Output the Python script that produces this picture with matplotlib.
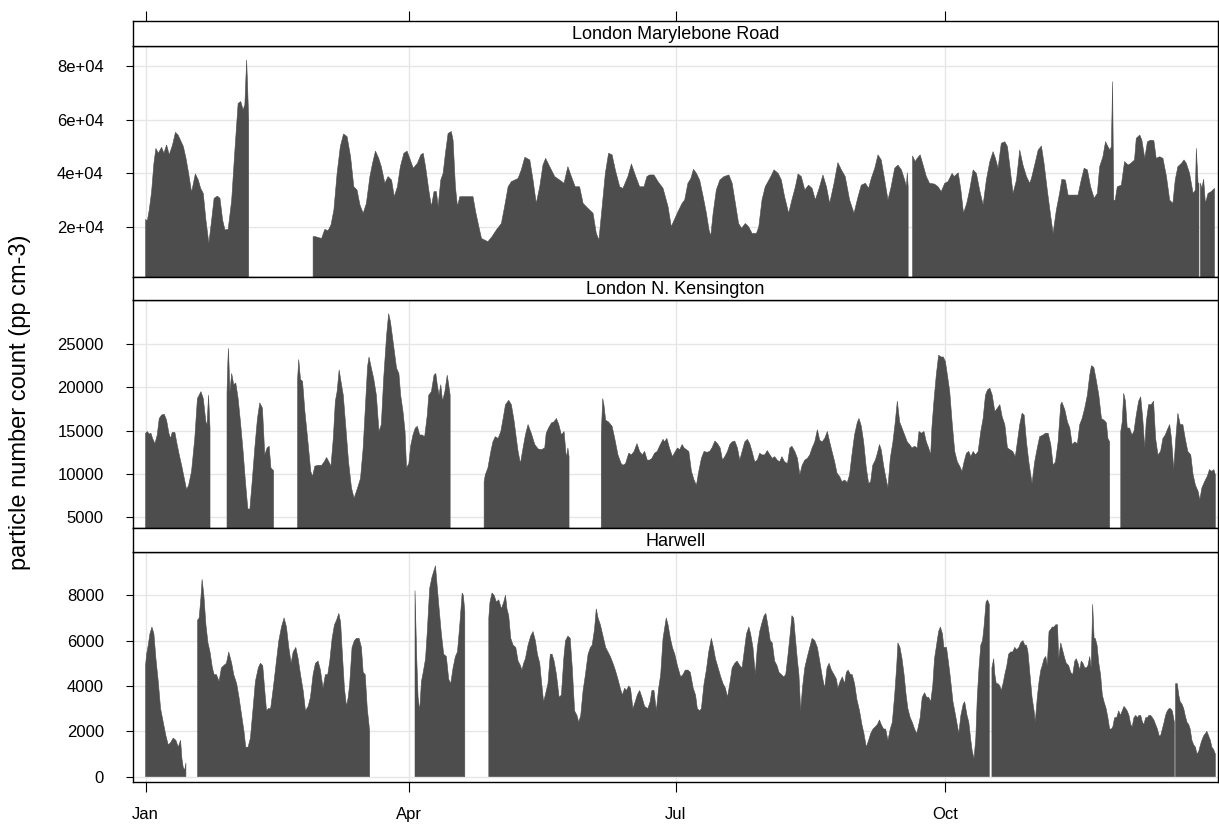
import numpy as np
import matplotlib.pyplot as plt

plt.rcParams['font.family'] = ['Liberation Sans', 'DejaVu Sans']

nan = np.nan

# x positions are day of year (0 = 1 Jan), nan marks a gap in the record
month_days = [0, 90, 181, 273]
month_labels = ['Jan', 'Apr', 'Jul', 'Oct']
sites = ['London Marylebone Road', 'London N. Kensington', 'Harwell']

mary_day = [0.0, 0.6, 1.25, 2.05, 2.84, 3.53, 4.32, 5.46, 6.26, 7.17, 8.08, 9.2, 10.2, 11.1, 11.9, 12.9,
            13.8, 14.7, 15.7, 17.0, 18.0, 18.8, 19.7, 20.6, 21.6, 22.5, 23.4, 24.5, 25.4, 26.3, 27.1, 28.2,
            29.4, 30.5, 31.6, 32.5, 33.3, 33.9, 34.5, 34.8, 35.2, 35.3,
            57.2, 57.9, 60.1, 61.2, 62.3, 63.3, 64.3, 65.4, 66.5, 67.6, 68.8, 70.0, 71.1, 72.2, 73.2, 74.3,
            75.4, 76.6, 77.5, 78.5, 79.6, 80.5, 81.7, 82.8, 84.0, 84.9, 86.0, 87.0, 88.2, 89.3, 90.2, 91.4,
            92.8, 94.0, 94.8, 95.6, 96.7, 97.6, 98.5, 99.3, 99.9, 100.8, 101.6, 102.4, 103.3, 104.4, 105.0,
            105.8, 106.5, 107.3, 108.4, 110.1, 111.8, 112.7, 113.8, 114.7, 115.8, 116.9, 118.3, 119.8, 121.5,
            122.6, 123.8, 124.9, 127.2, 128.3, 129.5, 131.2, 132.3, 133.4, 134.6, 135.7, 136.6, 138.0, 139.7,
            141.4, 142.9, 144.2, 145.4, 146.7, 148.2, 149.4, 151.1, 152.8, 153.9, 154.8, 155.8, 157.0, 158.1,
            159.3, 160.4, 161.9, 163.0, 164.7, 165.9, 167.2, 168.7, 170.2, 171.2, 172.1, 173.6, 175.0, 176.7,
            178.4, 179.5, 181.8, 183.2, 184.1, 185.2, 186.2, 187.1, 188.1, 189.2, 190.4, 191.5, 192.4, 193.0,
            193.8, 194.9, 196.1, 197.5, 199.2, 200.3, 201.4, 202.5, 203.5, 204.8, 205.9, 207.1, 208.6, 209.4,
            210.5, 211.6, 213.5, 214.6, 216.0, 217.1, 218.2, 219.6, 220.7, 221.9, 222.8, 223.9, 225.1, 226.4,
            227.6, 228.7, 230.0, 231.3, 232.5, 233.6, 235.1, 236.4, 237.6, 238.9, 240.4, 241.9, 243.3, 244.4,
            245.8, 246.9, 247.8, 249.0, 250.1, 251.2, 252.4, 253.5, 254.6, 255.8, 256.9, 258.1, 259.2, 259.8,
            260.1, 260.4, 260.5,
            261.9, 262.8, 263.5, 264.5, 265.5, 266.6, 267.7, 269.4, 270.6, 271.7, 272.9, 274.0, 275.4, 276.1,
            277.5, 278.4, 279.3, 280.4, 281.4, 282.6, 283.7, 284.8, 286.0, 287.1, 288.3, 289.4, 290.2, 291.1,
            292.2, 293.4, 294.3, 295.4, 296.2, 297.4, 298.5, 299.6, 300.8, 301.9, 302.5, 303.6, 304.8, 305.9,
            306.8, 307.9, 309.1, 309.9, 311.0, 312.1, 312.9, 314.1, 315.0, 316.1, 317.3, 318.4, 319.5, 320.5,
            321.6, 322.7, 323.9, 325.0, 325.8, 326.9, 327.8, 328.6, 329.3, 329.8, 330.2, 330.6, 331.1, 331.8,
            333.2, 334.3, 335.5, 336.4, 337.7, 338.3, 339.5, 340.2, 341.2, 342.1, 343.2, 344.3, 345.1, 346.3,
            347.4, 348.6, 349.7, 350.8, 351.6, 352.5, 353.7, 354.6, 355.4, 356.5, 357.7, 358.5, 358.8, 359.4,
            359.7, 359.9,
            360.2, 360.7, 361.3, 361.9, 362.8, 363.9, 365.0]
mary_val = [22700, 22200, 26200, 33000, 43600, 49200, 47400, 49600, 47400, 50500, 46800, 50500, 55200, 54200,
            52300, 49900, 45500, 39900, 32800, 39700, 37400, 34300, 32400, 22500, 13800, 21900, 30600, 31400,
            30600, 22500, 18800, 19000, 29900, 48600, 66000, 66700, 63600, 65500, 82200, 73500, 59900, nan,
            16300, 16300, 15600, 19000, 18500, 20600, 26200, 39900, 49900, 54600, 53600, 46100, 34900, 33700,
            28100, 25000, 28700, 38700, 43600, 48200, 45500, 42400, 36200, 38700, 37400, 31200, 34900, 42400,
            47400, 48200, 45500, 41800,
            43600, 46800, 47400, 42400, 33700, 27500, 33100, 33100, 27500, 37400, 39900, 47400, 54800, 55500,
            52300, 34900, 27500, 31200, 31200, 31200, 31200, 25600, 20000, 15600, 15000, 14400, 16300, 18800,
            21200, 27500, 34900, 36800, 38000, 41200, 45900, 44900, 37400, 28700, 34900, 43000, 45500, 42400,
            38700, 37400, 36200, 42400, 38700, 34900, 34900, 28700, 26800, 25000, 17500, 15000, 26200, 39900,
            47400, 46800, 41200, 34900, 34300, 38700, 43400, 39300, 34900, 34900, 38700, 39300, 39300, 36800,
            34300, 27500, 20000,
            25600, 28700, 30000, 36200, 38000, 41400, 39900, 37400, 31200, 25000, 18800, 16500, 25000, 33700,
            37400, 38700, 39300, 36200, 28700, 21200, 19400, 21200, 20000, 17500, 17500, 20000, 30000, 34900,
            38700, 41200, 39900, 37400, 31200, 25000, 30000, 34900, 39700, 38700, 33700, 35500, 34300, 30000,
            34300, 39300, 34900, 28700, 36200, 43900, 41200, 38700, 30000, 25000, 31200, 35500, 36200, 34300,
            38000, 41800, 46800, 44900, 37400, 30000, 34900, 41800, 43000, 41200, 37400, 34900, 40100, 34900,
            nan,
            46400, 44300, 45500, 46800, 43000, 38700, 36200, 35900, 34900, 33100, 36200, 36800, 39900, 38700,
            40100, 33700, 25000, 28700, 33700, 41200, 39900, 33700, 28100, 37400, 44300, 48000, 45500, 41800,
            51100, 51700, 49900, 39900, 32400, 37400, 48600, 43000, 38700, 36200, 38000, 43000, 48600, 50100,
            43600, 33700, 23700, 17500, 26200, 32400, 37700, 37400, 31800, 31800, 31800, 31800, 37400, 41800,
            41200, 34900, 30600, 32400, 42400, 46100, 51700, 49900, 48600, 49900, 74100, 29900, 29900, 34900,
            35500, 44300, 43000, 43600, 44900, 53000, 54200, 52300, 45500, 51700, 52300, 52100, 45500, 46100,
            45500, 38700, 29900, 28700, 37400, 42400, 43600, 44900, 43600, 39900, 32400, 33700, 49200, 36200,
            36200, nan,
            36200, 34300, 37700, 28700, 32400, 33100, 34300]

kens_day = [0.0, 0.57, 1.25, 1.82, 2.39, 3.19, 3.98, 4.66, 5.46, 6.37, 7.17, 7.96, 8.53, 9.1, 10.0, 10.6,
            11.5, 12.3, 13.2, 14.0, 14.7, 15.7, 16.8, 17.7, 18.9, 19.7, 20.6, 21.0, 21.5, 22.0, 22.2,
            27.8, 28.1, 28.3, 28.8, 29.4, 30.1, 30.8, 31.6, 32.4, 33.3, 34.1, 34.9, 35.6, 36.4, 37.3, 38.2,
            39.0, 39.9, 40.7, 41.5, 42.2, 42.8, 43.3, 43.7, 43.9,
            51.9, 52.3, 52.9, 53.6, 54.4, 55.5, 56.4, 57.0, 57.8, 58.9, 60.1, 61.0, 61.8, 62.6, 63.3, 64.1,
            64.8, 65.4, 66.1, 66.9, 67.5, 68.4, 69.3, 70.3, 71.2, 72.4, 73.4, 74.3, 75.1, 75.8, 76.3, 77.1,
            77.9, 78.8, 79.7, 80.5, 81.3, 82.3, 83.0, 83.6, 84.5, 85.7, 86.5, 87.1, 87.9, 88.6, 89.1, 89.9,
            90.5, 91.3, 92.1, 92.8, 93.6, 94.4, 95.3, 96.2, 96.7, 97.6, 98.5, 99.1, 99.6, 100.2, 100.8, 101.4,
            102.2, 103.0, 103.5, 104.0, 104.2,
            115.6, 116.0, 116.9, 117.9, 118.6, 119.4, 120.4, 121.3, 122.1, 122.9, 124.0, 124.9, 125.8, 126.6,
            127.2, 128.0, 128.9, 129.7, 130.6, 131.7, 132.9, 134.0, 135.1, 136.3, 136.8, 137.6, 138.6, 139.4,
            140.3, 141.1, 142.0, 142.9, 143.7, 144.2, 144.6, 144.8,
            155.6, 156.1, 156.5, 157.1, 158.1, 159.3, 160.2, 161.3, 162.4, 163.0, 163.9, 165.0, 165.9, 166.8,
            167.8, 168.7, 169.6, 170.4, 171.3, 172.1, 172.9, 173.8, 174.7, 175.5, 176.7, 177.2, 178.0, 178.9,
            179.9, 181.6, 182.4, 183.2, 183.9, 184.7, 185.5, 186.4, 187.3, 188.1, 188.9, 189.8, 190.7, 191.7,
            192.6, 193.4, 194.4, 195.3, 196.2, 197.0, 197.8, 198.7, 199.5, 200.3, 201.2, 202.1, 202.9, 203.7,
            204.6, 205.5, 206.3, 207.1, 208.0, 208.9, 209.7, 210.5, 211.4, 212.3, 213.2, 214.0, 214.8, 215.7,
            216.5, 217.3, 218.2, 219.2, 220.0, 220.7, 221.7, 222.6, 223.4, 224.2, 225.1, 226.0, 226.8, 227.6,
            228.5, 229.4, 230.2, 231.0, 231.9, 232.8, 233.6, 234.4, 235.3, 236.1, 237.0, 237.8, 238.7, 239.6,
            240.4, 241.2, 242.1, 243.0, 243.6, 244.4, 245.2, 246.1, 246.9, 247.6, 248.3, 249.2, 249.9, 250.6,
            251.2, 252.0, 252.7, 253.5, 254.3, 255.2, 256.0, 256.7, 257.5, 258.3, 259.2, 260.1, 260.9, 261.7,
            262.6, 263.5, 264.1, 264.9, 265.8, 266.6, 267.4, 268.1, 268.5, 269.2, 270.0, 270.8, 271.7, 272.4,
            273.1, 273.8, 274.6, 275.4, 276.3, 277.2, 278.0, 278.8, 279.5, 280.3, 281.1, 281.8, 282.6, 283.4,
            284.3, 285.2, 286.0, 286.8, 287.5, 288.3, 289.1, 290.0, 290.9, 291.7, 292.5, 293.4, 294.3, 295.2,
            296.1, 297.0, 297.7, 298.5, 299.3, 300.0, 300.8, 301.6, 302.7, 303.6, 304.5, 305.3, 306.5, 307.3,
            308.2, 309.1, 309.9, 310.7, 311.6, 312.5, 312.9, 313.9, 314.8, 315.6, 316.4, 317.3, 318.2, 319.0,
            319.8, 320.7, 321.6, 322.4, 323.0, 323.8, 324.7, 325.5, 326.4, 327.3, 328.1, 328.6, 329.2, 329.5,
            333.0, 333.5, 334.0, 334.6, 335.2, 336.0, 336.8, 337.5, 338.3, 339.1, 339.8, 340.5, 341.2, 341.7,
            342.5, 343.4, 344.2, 344.9, 345.7, 346.6, 347.4, 348.2, 348.9, 349.7, 350.3, 351.1, 351.7, 352.5,
            353.3, 354.2, 355.0, 355.9, 356.9, 357.7, 358.5, 359.4, 360.0, 360.7, 361.6, 362.5, 363.3, 364.1,
            364.8, 365.3]
kens_val = [14700, 14900, 14600, 14700, 14100, 13500, 14500, 16400, 16800, 16900, 16200, 14700, 14100, 14800,
            14800, 13700, 12200, 11000, 9500, 8200, 8700, 10300, 14100, 18700, 19500, 18700, 16000, 15700,
            19100, 15300, nan,
            19300, 23000, 24500, 19500, 21600, 20300, 20500, 18700, 16000, 12600, 9100, 6000, 5900, 9100, 13000,
            16400, 18200, 17600, 12200, 13000, 13200, 10700, 10500, 10400, nan,
            20900, 23200, 20900, 20700, 17200, 13500, 10300, 9700, 10900, 11000, 11000, 11400, 11900, 11400,
            10900, 14100, 18400, 19500, 22000, 20300, 19100, 15300, 11400, 8400, 7200, 8400, 9500, 13000, 18000,
            22400, 23500, 22200, 21000, 19100, 14900, 15700, 21000, 26000, 28500, 27600, 25300, 22200, 21600,
            19100, 17200, 14900, 10700, 11200, 13200, 14500, 15300, 15500, 14500, 14500, 14300, 16800, 19100,
            19500, 21400, 21600, 20300, 19100, 20300, 18400, 19500, 21400, 20300, 19100, nan,
            9100, 9900, 10700, 12600, 13700, 14300, 14100, 14900, 16400, 18000, 18500, 18000, 16200, 14100,
            12600, 11200, 13000, 14500, 15700, 14700, 13400, 12900, 12800, 13000, 14700, 15300, 15900, 16000,
            16400, 15700, 14500, 14900, 11800, 13000, 12000, nan,
            14500, 18700, 18000, 16200, 16000, 15500, 14100, 12200, 11200, 11000, 11200, 12400, 12200, 12600,
            13500, 12600, 12200, 12600, 11600, 11600, 11800, 12400, 12600, 13200, 14000, 13700, 14100, 13000,
            12000, 13000, 12800, 13400, 13000, 12800, 12600, 10300, 9300, 8700, 10300, 11800, 12600, 12500,
            12600, 13000, 13800, 13500, 13000, 11600, 12000, 12600, 13400, 13700, 13800, 13000, 11600, 12600,
            13700, 14000, 13500, 12600, 11400, 11600, 12400, 12200, 12200, 12700, 12200, 11800, 12000, 11600,
            11400, 12000, 11400, 11200, 13000, 13200, 12600, 11800, 9900, 11000, 11600, 11800, 12200, 13000,
            13700, 15100, 13900, 13700, 14100, 14900, 13700, 12600, 11400, 10100, 9700, 9100, 9300, 9000,
            9900, 12200, 14500, 15900, 16400, 15500, 13700, 10700, 8900, 9100, 11000, 11600, 12400, 13400,
            12800, 11000, 9700, 8400, 11800, 13700, 16000, 18400, 16000, 15300, 14500, 13700, 13400, 13000,
            13200, 13000, 14900, 14700, 14900, 13700, 13000, 12200, 15300, 18400, 21400, 23700, 23500, 23500,
            23000, 21400, 19500, 16000, 12600, 11400, 10900, 10300, 11400, 12400, 12600, 12000, 12600, 12200,
            12600, 14900, 16400, 19100, 19700, 19900, 19100, 17200, 17600, 18000, 16600, 15700, 13000, 12800,
            12600, 12000, 13700, 15700, 17000, 16800, 13700, 11400, 8900, 11400, 13000, 14300, 14500, 14700,
            14700, 13400, 11000, 11400, 13700, 18000, 18300, 17400, 16000, 15300, 13400, 13700, 13500, 15700,
            16400, 17600, 19100, 21400, 22500, 22300, 20700, 19100, 16400, 16200, 15900, 14100, 13700, nan,
            14900, 16000, 19300, 18400, 15300, 15300, 14500, 14900, 16800, 18400, 18900, 16400, 13000, 16000,
            18000, 18000, 18400, 14100, 12200, 12600, 14100, 14500, 15100, 15700, 14100, 10500, 13700, 17000,
            15700, 15700, 14100, 12600, 12200, 9900, 8700, 8000, 7000, 8400, 9100, 9700, 10500, 10300,
            10500, 9900]

harw_day = [0.0, 0.34, 0.91, 1.48, 2.16, 2.84, 3.53, 4.32, 5.12, 6.03, 6.94, 7.74, 8.53, 9.44, 10.35, 11.15,
            11.95, 12.4, 12.86, 13.4, 13.77, 13.9,
            17.75, 18.3, 18.9, 19.3, 19.9, 20.6, 21.3, 22.0, 22.8, 23.4, 24.2, 25.1, 25.9, 26.7, 27.6, 28.4,
            29.4, 30.1, 31.1, 31.9, 32.8, 33.6, 34.2, 35.0, 35.8, 36.7, 37.5, 38.5, 39.2, 40.0, 40.7, 41.3,
            41.9, 42.7, 43.6, 44.5, 45.5, 46.4, 47.3, 48.1, 48.9, 49.7, 50.4, 51.3, 52.1, 52.9, 53.8, 54.6,
            55.5, 56.3, 57.2, 58.0, 58.9, 59.7, 60.6, 61.4, 62.2, 62.9, 63.7, 64.5, 65.2, 66.0, 66.6, 67.2,
            67.9, 68.6, 69.2, 69.7, 70.5, 71.3, 72.0, 72.9, 73.7, 74.3, 75.0, 75.7, 76.2, 76.5, 76.7,
            92.0, 92.6, 93.05, 93.6, 94.2, 94.8, 95.6, 96.2, 97.0, 97.8, 98.5, 99.0, 99.5, 100.1, 101.0, 101.8,
            102.7, 103.5, 104.2, 105.0, 105.8, 106.5, 107.3, 108.1, 108.5, 109.0, 109.2,
            117.2, 117.6, 118.3, 119.0, 119.8, 120.6, 121.5, 122.3, 122.9, 123.4, 124.0, 124.7, 125.5, 126.4,
            127.2, 128.0, 128.5, 129.1, 129.7, 130.6, 131.5, 132.3, 133.1, 133.8, 134.6, 135.1, 135.9, 136.5,
            137.4, 138.2, 138.8, 139.5, 140.3, 141.2, 142.0, 142.8, 143.4, 144.2, 145.0, 145.7, 146.5, 147.3,
            147.9, 148.6, 149.4, 150.2, 151.1, 151.9, 152.5, 153.3, 153.9, 154.5, 155.3, 156.2, 157.1, 157.9,
            158.7, 159.6, 160.4, 161.3, 162.1, 162.8, 163.6, 164.2, 165.0, 165.6, 166.4, 167.2, 167.9, 168.7,
            169.5, 170.4, 171.5, 172.3, 172.9, 173.6, 174.4, 175.2, 175.9, 176.7, 177.8, 178.4, 179.2, 179.9,
            180.7, 181.6, 182.7, 183.5, 184.3, 185.2, 186.0, 187.0, 187.8, 188.4, 189.2, 189.8, 190.7, 191.5,
            192.3, 193.2, 193.9, 194.6, 195.5, 196.4, 197.2, 198.0, 198.7, 199.5, 200.3, 201.2, 202.0, 202.9,
            203.7, 204.4, 205.2, 206.0, 206.6, 207.4, 208.2, 208.9, 209.7, 210.5, 211.2, 211.8, 212.6, 213.3,
            214.0, 214.8, 215.6, 216.3, 217.1, 217.9, 218.6, 219.4, 220.2, 220.7, 221.3, 221.9, 222.6, 223.1,
            223.7, 224.3, 225.1, 226.0, 226.8, 227.6, 228.5, 229.4, 230.2, 231.1, 231.9, 232.7, 233.4, 234.2,
            235.1, 235.9, 236.4, 237.2, 237.9, 238.7, 239.3, 239.9, 240.7, 241.3, 242.1, 242.9, 243.8, 244.6,
            245.3, 246.1, 246.9, 247.6, 248.4, 249.2, 249.9, 250.6, 251.2, 252.0, 252.7, 253.5, 254.3, 255.0,
            255.8, 256.5, 256.9, 257.6, 258.3, 259.0, 259.7, 260.3, 261.1, 261.8, 262.6, 263.3, 263.7, 264.5,
            265.2, 266.0, 266.7, 267.4, 268.1, 268.8, 269.4, 270.1, 270.8, 271.4, 272.1, 272.6, 273.5, 274.0,
            274.6, 275.2, 275.7, 276.3, 277.0, 277.7, 278.4, 279.2, 279.7, 280.5, 281.1, 281.8, 282.3, 282.9,
            283.5, 284.0, 284.6, 285.2, 285.8, 286.3, 287.0, 287.5, 288.1, 288.2,
            289.0, 289.6, 290.0, 290.5, 291.1, 291.7, 292.2, 292.8, 293.4, 294.1, 294.7, 295.4, 296.1, 296.8,
            297.5, 298.2, 298.8, 299.6, 300.2, 300.8, 301.3, 302.0, 302.7, 303.4, 303.8, 304.5, 305.1, 305.7,
            306.2, 306.8, 307.4, 307.9, 308.5, 309.1, 309.6, 310.2, 310.8, 311.4, 311.8, 312.5, 313.3, 313.9,
            314.4, 315.2, 315.9, 316.6, 317.3, 317.8, 318.4, 319.0, 319.5, 320.1, 320.7, 321.3, 321.8, 322.4,
            322.9, 323.4, 323.9, 324.3, 324.9, 325.5, 326.1, 326.7, 327.3, 328.0, 328.6, 329.2, 329.8, 330.3,
            330.9, 331.6, 332.3, 332.9, 333.5, 334.1, 334.7, 335.2, 335.8, 336.4, 336.9, 337.5, 338.1, 338.7,
            339.2, 339.8, 340.4, 340.9, 341.5, 342.1, 342.6, 343.2, 343.8, 344.3, 344.9, 345.5, 346.1, 346.6,
            347.2, 347.8, 348.3, 348.9, 349.5, 350.0, 350.6, 351.3, 351.5,
            351.7, 352.3, 352.8, 353.3, 353.9, 354.5, 355.0, 355.6, 356.2, 356.7, 357.3, 357.9, 358.5, 359.0,
            359.6, 360.2, 360.7, 361.3, 361.9, 362.4, 363.0, 363.6, 364.1, 364.7, 365.3]
harw_val = [4900, 5400, 5800, 6300, 6600, 6300, 5200, 4200, 3000, 2400, 1800, 1400, 1500, 1700, 1600, 1300,
            1600, 800, 400, 300, 600, nan,
            6900, 7000, 7900, 8700, 8000, 6700, 5900, 5500, 4800, 4500, 4500, 4200, 4800, 4900, 5000, 5500,
            5000, 4500, 4100, 3500, 2700, 2000, 1300, 1300, 1700, 3000, 4200, 4800, 5000, 4900, 3800, 2900,
            3000, 3000, 3900, 4900, 6000, 6600, 7000, 6600, 5700, 5000, 5500, 5700, 5200, 4500, 3800, 2900,
            3100, 3500, 4500, 5000, 5100, 4700, 3900, 4500, 4500, 5100, 6100, 6700, 6900, 7200, 6800, 5400,
            3900, 3100, 3500, 4100, 5700, 6000, 6100, 6100, 5700, 4600, 4500, 3000, 2400, 2000, nan,
            8200, 5200, 3500, 2900, 4200, 4600, 5200, 6400, 8300, 8800, 9100, 9300, 8500, 7600, 6300, 5400,
            5300, 4300, 4100, 4800, 5300, 5500, 6700, 8100, 8000, 7300, nan,
            7000, 7700, 8100, 8000, 7700, 7800, 7400, 7700, 8000, 7400, 7100, 6100, 5800, 5700,
            5100, 4900, 4700, 5000, 5200, 5800, 6200, 6400, 6000, 5400, 5000, 4300, 3300, 3600,
            4100, 5400, 5400, 5100, 4500, 3500, 3600, 5200, 6000, 6200, 6100, 4800, 2900, 2700,
            2400, 2700, 3800, 4500, 5400, 5700, 5800, 6500, 7400, 7000, 6700, 6200, 5700, 5500,
            5300, 5000, 4700, 4300, 3900, 3600, 3900, 3800, 4000, 3900, 3000, 3300, 3600, 3800,
            3500, 3100, 3000, 3300, 3800, 3800, 2900, 3900, 4500, 6100, 7000, 6700, 6100, 5700,
            5400, 4900, 4400, 4500, 4700, 4700, 4600, 3900, 3600, 3000, 2900, 3000, 4100, 4700,
            5500, 6100, 5700, 5200, 4800, 4400, 4100, 3900, 3500, 4100, 4800, 5000, 5100, 4900,
            4800, 5500, 6300, 6600, 6300, 5700, 4500, 5700, 6400, 6800, 7100, 7200, 6600, 6000,
            5900, 5100, 4900, 4600, 4500, 4400, 4500, 5400, 6400, 7100, 7000, 6100, 5100, 4500,
            2900, 3900, 4800, 5300, 5700, 6100, 6000, 5700, 5100, 4400, 3900, 4800, 5000, 4700,
            4500, 4300, 3900, 4200, 4400, 4100, 4600, 4700, 4500, 4500, 4100, 3400, 2900, 2300,
            1900, 1300, 1600, 1900, 2100, 2200, 2300, 2500, 2300, 2100, 2100, 1600, 2100, 2400,
            3600, 4900, 5900, 5700, 5200, 4500, 3600, 3000, 2600, 2400, 2100, 1900, 2100, 2600,
            3500, 3700, 3500, 3500, 3300, 4000, 5200, 5800, 6400, 6600, 6300, 5700, 5700, 5200,
            4600, 3900, 3300, 2900, 2400, 1900, 2700, 3200, 3300, 2700, 2400, 1600, 1100, 800,
            1700, 3500, 4800, 5800, 6000, 6600, 7700, 7800, 7600, nan,
            4800, 5200, 4500, 4100, 4100, 4000, 3800, 4100, 4500, 4900, 5400, 5500, 5500, 5700,
            5600, 5700, 5900, 6000, 5800, 5800, 5500, 4500, 3500, 2900, 2400, 3500, 4200, 4700,
            4900, 5200, 5300, 4900, 6400, 6500, 6600, 6600, 6700, 6700, 5200, 5900, 5500, 5200,
            5000, 4900, 4600, 4500, 5100, 5200, 5000, 4700, 5100, 5000, 4800, 4800, 4900, 5300,
            4800, 7600, 6100, 6100, 5800, 5000, 4500, 3600, 3300, 3000, 2600, 2100, 2100, 2200,
            2600, 2600, 2900, 2700, 2900, 3100, 3000, 2900, 2700, 2300, 2200, 2600, 2700, 2600,
            2700, 2700, 2400, 2300, 2600, 2600, 2700, 2700, 2600, 2500, 2300, 2100, 1800, 1800,
            2100, 2400, 2700, 2900, 3000, 3000, 2900, 2400, nan,
            4100, 4100, 3600, 3300, 3200, 3000, 2700, 2400, 2300, 2100, 1600, 1400, 1300, 1000,
            1100, 1400, 1600, 1800, 1900, 2000, 1800, 1600, 1300, 1200, 1000]

series_day = [mary_day, kens_day, harw_day]
series_val = [mary_val, kens_val, harw_val]

y_ticks = [[20000, 40000, 60000, 80000],
           [5000, 10000, 15000, 20000, 25000],
           [0, 2000, 4000, 6000, 8000]]
y_ticklabels = [['2e+04', '4e+04', '6e+04', '8e+04'],
                ['5000', '10000', '15000', '20000', '25000'],
                ['0', '2000', '4000', '6000', '8000']]
y_limits = [(1340, 87430), (3730, 30080), (-250, 9910)]

W, H = 1219, 825
fig = plt.figure(figsize=(W / 100, H / 100), dpi=100)

left, right = 133, 1218
panel_px = [(46, 276.7), (300, 528.3), (552, 782.3)]
strip_px = [(21, 46), (276.7, 300), (528.3, 552)]
bar_col = '#4d4d4d'
grid_col = '#e6e6e6'

for i in range(3):
    top, bot = panel_px[i]
    ax = fig.add_axes([left / W, 1 - bot / H, (right - left) / W, (bot - top) / H])
    d = np.array(series_day[i], dtype=float)
    v = np.array(series_val[i], dtype=float)
    ax.fill_between(d, 0, v, color=bar_col, linewidth=0.4, edgecolor=bar_col, zorder=2)
    ax.set_xlim(-4.3, 366.2)
    ax.set_ylim(*y_limits[i])
    for t in month_days:
        ax.axvline(t, color=grid_col, lw=1, zorder=1)
    for t in y_ticks[i]:
        ax.axhline(t, color=grid_col, lw=1, zorder=1)
    ax.set_yticks(y_ticks[i])
    ax.set_yticklabels(y_ticklabels[i])
    ax.set_xticks(month_days)
    ax.tick_params(axis='y', direction='out', length=5, width=0.8, labelsize=12, pad=16)
    if i == 2:
        ax.set_xticklabels(month_labels)
        ax.tick_params(axis='x', direction='out', length=7.5, width=0.8, labelsize=12, pad=10)
    else:
        ax.tick_params(axis='x', length=0, labelbottom=False)
    for s in ax.spines.values():
        s.set_linewidth(1.0)

    stop, sbot = strip_px[i]
    sax = fig.add_axes([left / W, 1 - sbot / H, (right - left) / W, (sbot - stop) / H])
    sax.set_xlim(-4.3, 366.2)
    sax.set_yticks([])
    sax.text(0.5, 0.45, sites[i], transform=sax.transAxes, ha='center', va='center', fontsize=13)
    if i == 0:
        sax.set_xticks(month_days)
        sax.tick_params(axis='x', bottom=False, labelbottom=False, top=True, direction='out',
                        length=7.5, width=0.8)
    else:
        sax.set_xticks([])
    for s in sax.spines.values():
        s.set_linewidth(1.0)

fig.text(20 / W, 0.512, 'particle number count (pp cm-3)', rotation=90,
         ha='center', va='center', fontsize=17)

fig.savefig('out.png', dpi=100)
